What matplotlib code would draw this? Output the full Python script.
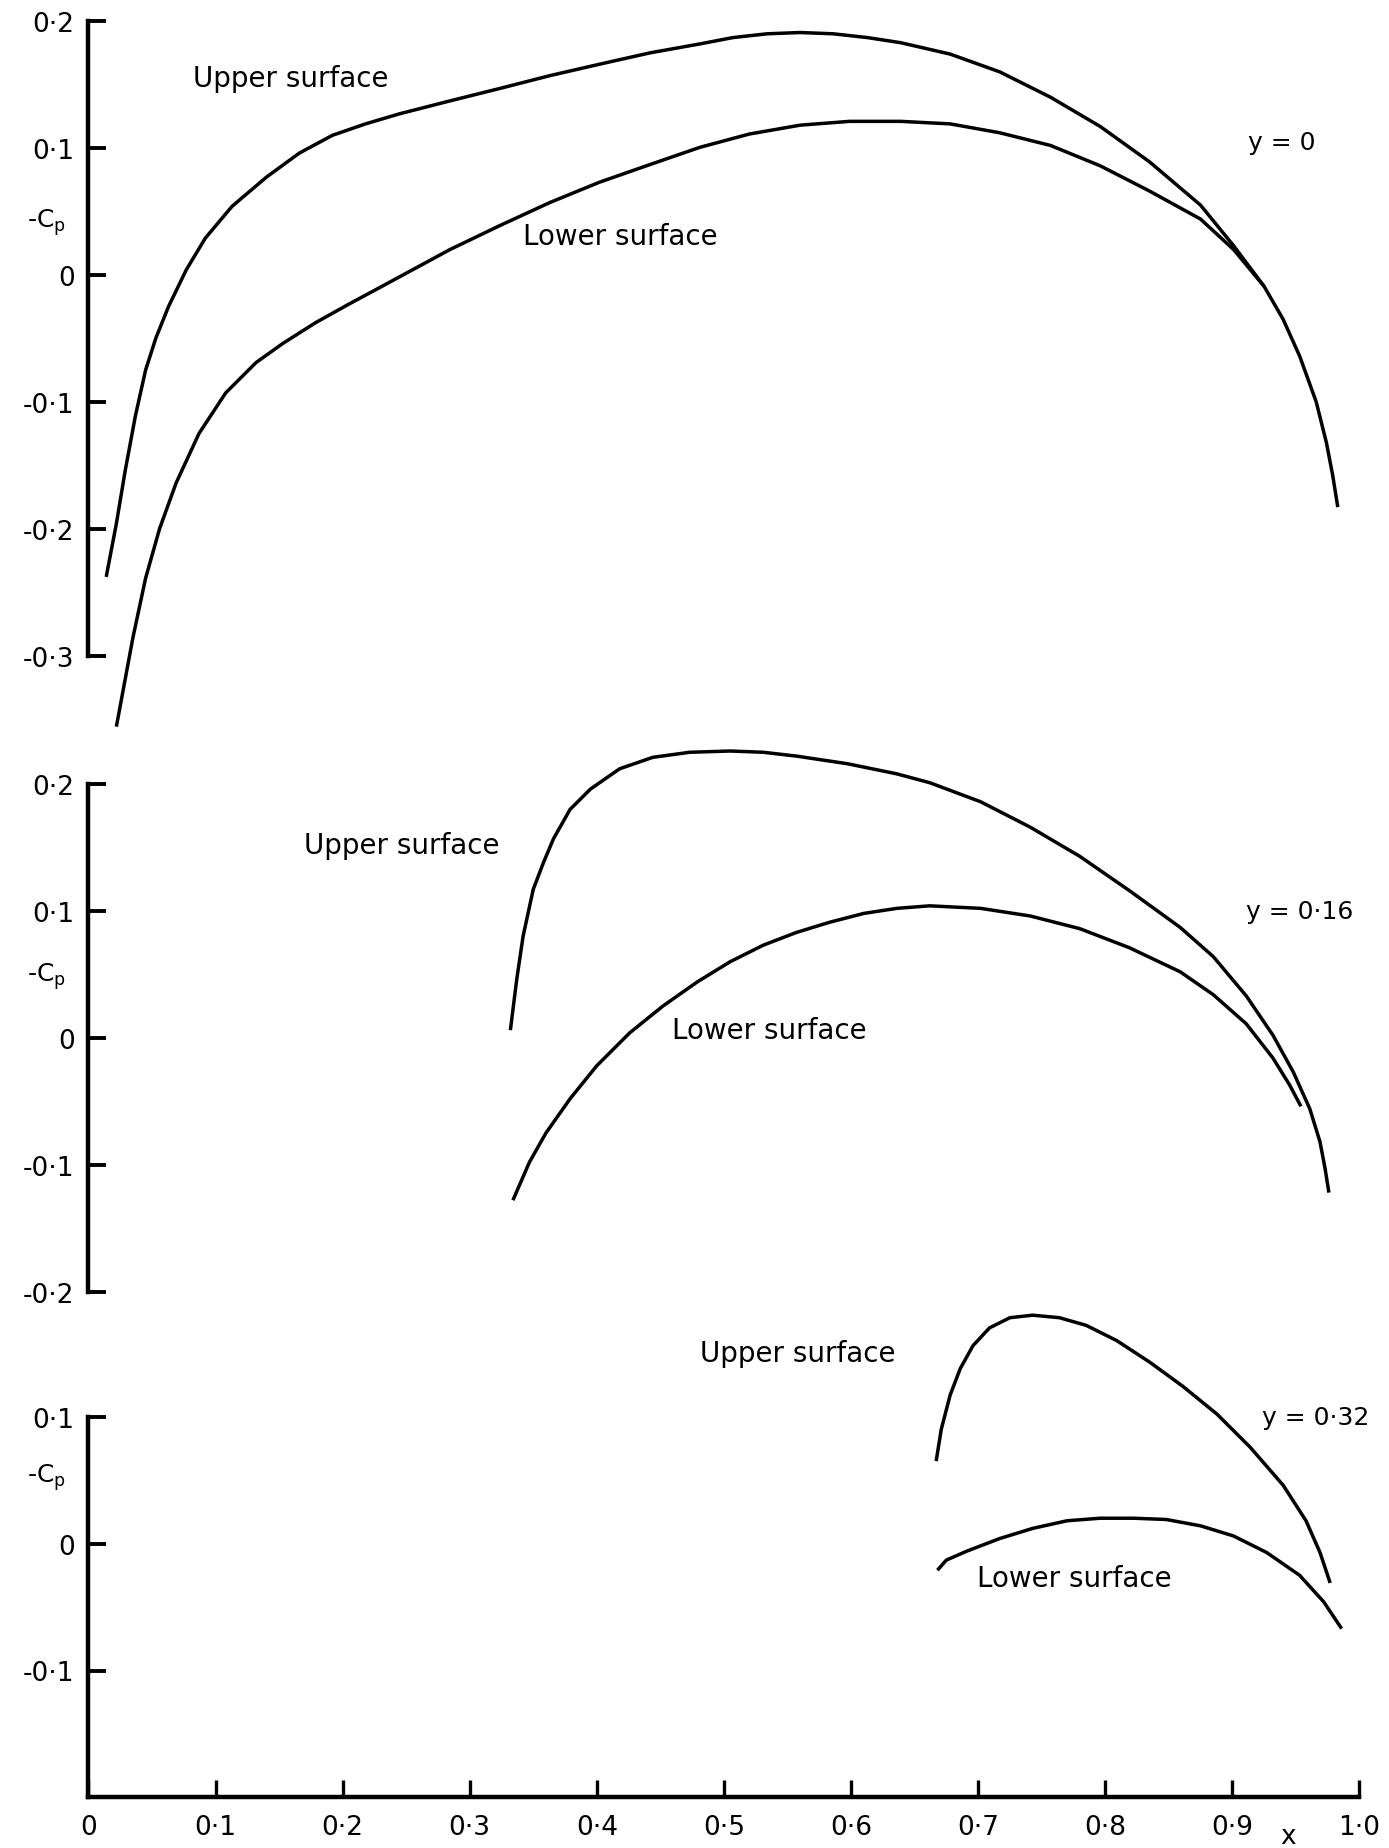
import matplotlib
matplotlib.use("Agg")
import matplotlib.pyplot as plt

plt.rcParams['font.family'] = ['DejaVu Sans']

# ---------------- data (x = chord position, value = -Cp) ----------------
# y = 0
x_up_0 = [0.014, 0.022, 0.029, 0.037, 0.045, 0.053, 0.063, 0.077, 0.092, 0.113,
          0.140, 0.166, 0.192, 0.218, 0.245, 0.284, 0.324, 0.363, 0.402, 0.442,
          0.481, 0.507, 0.534, 0.560, 0.586, 0.613, 0.639, 0.678, 0.717, 0.757,
          0.796, 0.835, 0.875, 0.901, 0.925, 0.940, 0.953, 0.966, 0.974, 0.979,
          0.983]
cp_up_0 = [-0.238, -0.196, -0.154, -0.111, -0.075, -0.050, -0.025, 0.004, 0.029, 0.054,
           0.077, 0.096, 0.110, 0.119, 0.127, 0.137, 0.147, 0.157, 0.166, 0.175,
           0.182, 0.187, 0.190, 0.191, 0.190, 0.187, 0.183, 0.174, 0.160, 0.140,
           0.117, 0.089, 0.055, 0.023, -0.009, -0.035, -0.064, -0.100, -0.132, -0.158,
           -0.183]
x_lo_0 = [0.022, 0.035, 0.045, 0.056, 0.069, 0.087, 0.108, 0.132, 0.153, 0.179,
          0.205, 0.231, 0.2845, 0.324, 0.363, 0.402, 0.442, 0.481, 0.520, 0.560,
          0.599, 0.639, 0.678, 0.717, 0.757, 0.796, 0.835, 0.875, 0.901, 0.925]
cp_lo_0 = [-0.356, -0.286, -0.239, -0.200, -0.164, -0.125, -0.093, -0.069, -0.054, -0.0375,
           -0.023, -0.009, 0.020, 0.039, 0.057, 0.073, 0.087, 0.1005, 0.111, 0.118,
           0.121, 0.121, 0.119, 0.112, 0.102, 0.086, 0.066, 0.044, 0.020, -0.009]

# y = 0.16
x_up_16 = [0.332, 0.337, 0.342, 0.350, 0.358, 0.366, 0.379, 0.395, 0.418, 0.444,
           0.473, 0.505, 0.531, 0.557, 0.597, 0.636, 0.662, 0.702, 0.741, 0.780,
           0.819, 0.859, 0.885, 0.911, 0.932, 0.948, 0.961, 0.969, 0.973, 0.976]
cp_up_16 = [0.006, 0.046, 0.080, 0.117, 0.138, 0.157, 0.180, 0.196, 0.212, 0.221,
            0.225, 0.226, 0.225, 0.222, 0.216, 0.208, 0.201, 0.186, 0.166, 0.143,
            0.116, 0.087, 0.064, 0.033, 0.002, -0.027, -0.056, -0.082, -0.103, -0.122]
x_lo_16 = [0.334, 0.347, 0.360, 0.379, 0.400, 0.426, 0.452, 0.479, 0.505, 0.531,
           0.557, 0.583, 0.610, 0.636, 0.662, 0.702, 0.741, 0.780, 0.819, 0.859,
           0.885, 0.911, 0.932, 0.945, 0.954]
cp_lo_16 = [-0.128, -0.098, -0.075, -0.048, -0.022, 0.004, 0.025, 0.044, 0.060, 0.073,
            0.083, 0.091, 0.098, 0.102, 0.104, 0.102, 0.096, 0.086, 0.071, 0.052,
            0.034, 0.011, -0.016, -0.037, -0.054]

# y = 0.32
x_up_32 = [0.667, 0.671, 0.678, 0.686, 0.696, 0.709, 0.725, 0.743, 0.764, 0.785,
           0.809, 0.835, 0.861, 0.888, 0.914, 0.940, 0.958, 0.969, 0.977]
cp_up_32 = [0.065, 0.090, 0.117, 0.138, 0.156, 0.170, 0.178, 0.180, 0.178, 0.172,
            0.160, 0.143, 0.124, 0.102, 0.076, 0.046, 0.018, -0.007, -0.031]
x_lo_32 = [0.668, 0.675, 0.691, 0.717, 0.743, 0.770, 0.796, 0.822, 0.848, 0.875,
           0.901, 0.927, 0.953, 0.972, 0.986]
cp_lo_32 = [-0.021, -0.013, -0.006, 0.004, 0.012, 0.018, 0.020, 0.020, 0.019, 0.014,
            0.006, -0.007, -0.025, -0.046, -0.067]

x_ticks = [0, 0.1, 0.2, 0.3, 0.4, 0.5, 0.6, 0.7, 0.8, 0.9, 1.0]
x_ticklabels = ["0", "0·1", "0·2", "0·3", "0·4", "0·5", "0·6", "0·7", "0·8", "0·9", "1·0"]
y_ticks_top = [0.2, 0.1, 0, -0.1, -0.2, -0.3]
y_labels_top = ["0·2", "0·1", "0", "-0·1", "-0·2", "-0·3"]
y_ticks_mid = [0.2, 0.1, 0, -0.1, -0.2]
y_labels_mid = ["0·2", "0·1", "0", "-0·1", "-0·2"]
y_ticks_bot = [0.1, 0, -0.1]
y_labels_bot = ["0·1", "0", "-0·1"]

# ---------------- layout ----------------
W, H = 1389, 1849
fig = plt.figure(figsize=(W / 100, H / 100), dpi=100)
fig.patch.set_facecolor("white")

X0 = 88.4        # pixel of x = 0
PX = 1271.0      # pixels per unit x
PY = 1269.0      # pixels per unit -Cp


def make_axes(y_zero_px, ymin, ymax):
    top_px = y_zero_px - ymax * PY
    bot_px = y_zero_px - ymin * PY
    rect = [X0 / W, 1 - bot_px / H, PX / W, (bot_px - top_px) / H]
    ax = fig.add_axes(rect)
    ax.set_xlim(0, 1.0)
    ax.set_ylim(ymin, ymax)
    ax.patch.set_alpha(0)
    for s in ["top", "right"]:
        ax.spines[s].set_visible(False)
    ax.spines["left"].set_linewidth(3.2)
    ax.spines["bottom"].set_linewidth(3.2)
    ax.tick_params(axis="y", direction="in", length=13, width=2.8, pad=10,
                   labelsize=19)
    ax.tick_params(axis="x", direction="in", length=12, width=2.4, pad=12,
                   labelsize=19)
    return ax


ax1 = make_axes(275.9, -0.3, 0.2)
ax2 = make_axes(1038.8, -0.2, 0.2)
ax3 = make_axes(1544.6, -0.2, 0.1)

for ax in (ax1, ax2):
    ax.spines["bottom"].set_visible(False)
    ax.tick_params(axis="x", bottom=False, labelbottom=False)

ax1.set_yticks(y_ticks_top, y_labels_top)
ax2.set_yticks(y_ticks_mid, y_labels_mid)
ax3.set_yticks(y_ticks_bot, y_labels_bot)
ax3.set_xticks(x_ticks, x_ticklabels)

lw = 2.5
for ax, xs, ys in [(ax1, x_up_0, cp_up_0), (ax1, x_lo_0, cp_lo_0),
                   (ax2, x_up_16, cp_up_16), (ax2, x_lo_16, cp_lo_16),
                   (ax3, x_up_32, cp_up_32), (ax3, x_lo_32, cp_lo_32)]:
    ax.plot(xs, ys, color="black", lw=lw, clip_on=False,
            solid_capstyle="butt", solid_joinstyle="round")

fs = 20
# panel 1 labels
ax1.text(0.082, 0.155, "Upper surface", fontsize=fs, ha="left", va="center")
ax1.text(0.342, 0.031, "Lower surface", fontsize=fs, ha="left", va="center")
ax1.text(0.912, 0.105, "y = 0", fontsize=18, ha="left", va="center")
ax1.text(-0.033, 0.042, "-C$_\\mathrm{p}$", fontsize=18, ha="center", va="center",
         clip_on=False)

# panel 2 labels
ax2.text(0.170, 0.152, "Upper surface", fontsize=fs, ha="left", va="center")
ax2.text(0.459, 0.006, "Lower surface", fontsize=fs, ha="left", va="center")
ax2.text(0.911, 0.100, "y = 0·16", fontsize=18, ha="left", va="center")
ax2.text(-0.033, 0.049, "-C$_\\mathrm{p}$", fontsize=18, ha="center", va="center",
         clip_on=False)

# panel 3 labels
ax3.text(0.481, 0.150, "Upper surface", fontsize=fs, ha="left", va="center",
         clip_on=False)
ax3.text(0.699, -0.027, "Lower surface", fontsize=fs, ha="left", va="center")
ax3.text(0.923, 0.100, "y = 0·32", fontsize=18, ha="left", va="center")
ax3.text(-0.033, 0.053, "-C$_\\mathrm{p}$", fontsize=18, ha="center", va="center",
         clip_on=False)
ax3.text(0.944, -0.2205, "x", fontsize=19, ha="center", va="top", clip_on=False)

fig.savefig("out.png", dpi=100, facecolor="white")
